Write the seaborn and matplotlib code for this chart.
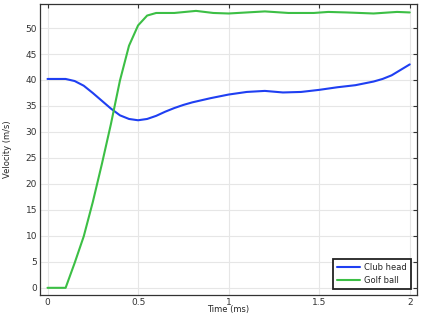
import numpy as np
import pandas as pd
import matplotlib
matplotlib.use("Agg")
import matplotlib.pyplot as plt
import seaborn as sns

time_club = [0, 0.1, 0.15, 0.2, 0.25, 0.3, 0.35, 0.4, 0.45, 0.5, 0.55, 0.6, 0.65, 0.7,
             0.75, 0.8, 0.9, 1.0, 1.1, 1.2, 1.3, 1.4, 1.5, 1.6, 1.7, 1.8, 1.85, 1.9, 2.0]
club_head = [40.2, 40.2, 39.8, 38.9, 37.5, 36.0, 34.5, 33.2, 32.5, 32.25, 32.5, 33.1, 33.9, 34.6,
             35.2, 35.7, 36.5, 37.2, 37.7, 37.9, 37.6, 37.7, 38.1, 38.6, 39.0, 39.7, 40.2, 40.9, 43.0]

time_ball = [0, 0.1, 0.15, 0.2, 0.25, 0.3, 0.35, 0.4, 0.45, 0.5, 0.55, 0.6, 0.7, 0.82,
             0.915, 1.0, 1.1, 1.2, 1.33, 1.47, 1.55, 1.65, 1.8, 1.93, 2.0]
golf_ball = [0, 0, 4.8, 9.9, 16.5, 23.8, 31.5, 39.9, 46.6, 50.5, 52.4, 52.9, 52.9, 53.3,
             52.9, 52.8, 53.0, 53.2, 52.9, 52.9, 53.1, 53.0, 52.8, 53.1, 53.0]

series = ["Club head", "Golf ball"]
colors = ["#1f3ff2", "#3cbf45"]

df = pd.concat([
    pd.DataFrame({"t": time_club, "v": club_head, "s": series[0]}),
    pd.DataFrame({"t": time_ball, "v": golf_ball, "s": series[1]}),
])

sns.set_theme(style="white")
plt.rcParams['font.family'] = ['DejaVu Sans']

fig = plt.figure(figsize=(4.29, 3.18), dpi=100)
ax = fig.add_axes([0.093, 0.072, 0.879, 0.915])

sns.lineplot(data=df, x="t", y="v", hue="s", palette=colors, linewidth=1.5,
             ax=ax, sort=False, estimator=None)

ax.set_xlim(-0.042, 2.04)
ax.set_ylim(-1.4, 54.6)
ax.set_xticks([0, 0.5, 1, 1.5, 2])
ax.set_xticklabels(["0", "0.5", "1", "1.5", "2"])
ax.set_yticks(range(0, 51, 5))
ax.grid(True, color="#e6e6e6", linewidth=0.8)
ax.set_axisbelow(True)
ax.tick_params(axis="both", which="both", direction="in", length=3, width=0.8,
               labelsize=6.5, colors="#333333", top=True, right=True, pad=2)
for sp in ax.spines.values():
    sp.set_color("#333333")
    sp.set_linewidth(0.9)
ax.set_xlabel("Time (ms)", fontsize=6, labelpad=-1)
ax.set_ylabel("Velocity (m/s)", fontsize=6, labelpad=10)

leg = ax.legend(loc="lower right", fontsize=6, frameon=True, fancybox=False,
                edgecolor="#222222", framealpha=1, borderaxespad=0.7, handlelength=2.8,
                borderpad=0.5, labelspacing=0.45, handletextpad=0.5)
leg.get_frame().set_linewidth(1.3)

fig.savefig("out.png", dpi=100)
